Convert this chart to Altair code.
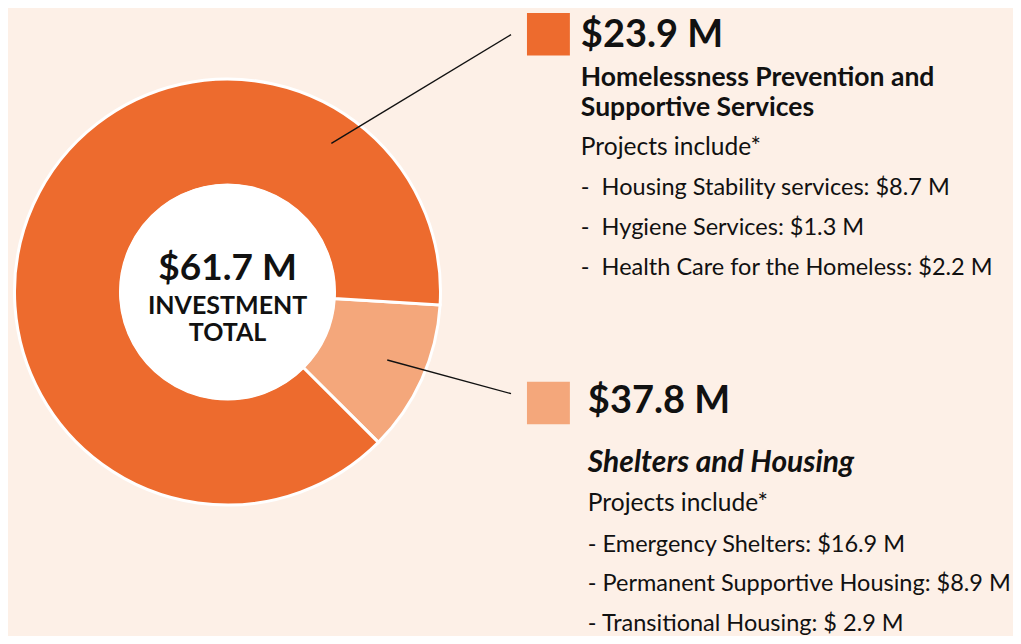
import math
import altair as alt
import pandas as pd

# ---------------- data ----------------
categories = ["Shelters and Housing", "Homelessness Prevention and Supportive Services"]
slice_share = [11.5, 88.5]          # share of the ring as drawn in the picture (%)
amounts = ["$37.8 M", "$23.9 M"]
total_label = "$61.7 M"
total_caption = ["INVESTMENT", "TOTAL"]
prevention_title = ["Homelessness Prevention and", "Supportive Services"]
shelter_title = ["Shelters and Housing"]
intro = "Projects include*"
prevention_items = ["Housing Stability services: $8.7 M",
                    "Hygiene Services: $1.3 M",
                    "Health Care for the Homeless: $2.2 M"]
shelter_items = ["Emergency Shelters: $16.9 M",
                 "Permanent Supportive Housing: $8.9 M",
                 "Transitional Housing: $ 2.9 M"]

# ---------------- style / layout ----------------
BG = "#FDF0E7"
DARK = "#ED6B2E"
LIGHT = "#F4A77B"
FONT = "Lato"
W, H = 1005, 628
CX, CY = 225.5, 292.0         # ring centre (page px)
R_OUT, R_IN = 213, 107
START = math.radians(93.5)    # where the first slice starts (clockwise from 12 o'clock)

XS = alt.Scale(domain=[8, 8 + W], nice=False, zero=False)
YS = alt.Scale(domain=[8 + H, 8], nice=False, zero=False)

def xq(f):
    return alt.X(f"{f}:Q", scale=XS, axis=None)

def yq(f):
    return alt.Y(f"{f}:Q", scale=YS, axis=None)

# ring
ring_df = pd.DataFrame({"category": categories, "share": slice_share,
                        "idx": list(range(len(categories)))})
ring = alt.Chart(ring_df).mark_arc(outerRadius=R_OUT, innerRadius=R_IN,
                                   stroke="white", strokeWidth=3).encode(
    theta=alt.Theta("share:Q", stack=True,
                    scale=alt.Scale(range=[START, START + 2 * math.pi])),
    color=alt.Color("category:N", scale=alt.Scale(domain=categories, range=[LIGHT, DARK]),
                    legend=None),
    order=alt.Order("idx:Q"),
    x=alt.value(CX - 8), y=alt.value(CY - 8),
)

hole = alt.Chart(pd.DataFrame({"k": [0]})).mark_arc(
    theta=0, theta2=2 * math.pi, outerRadius=R_IN + 1, innerRadius=0, fill="white"
).encode(x=alt.value(CX - 8), y=alt.value(CY - 8))

# leader lines
lines_df = pd.DataFrame({"category": categories,
                         "x": [386, 330], "y": [364, 145],
                         "x2": [510, 510], "y2": [398, 35]})
lines = alt.Chart(lines_df).mark_rule(color="#111111", strokeWidth=1.4).encode(
    x=xq("x"), y=yq("y"), x2="x2:Q", y2="y2:Q")

# legend squares
sq_df = pd.DataFrame({"category": categories,
                      "x": [526, 526], "x2": [569, 569],
                      "y": [386, 13], "y2": [429, 56]})
squares = alt.Chart(sq_df).mark_rect().encode(
    x=xq("x"), x2="x2:Q", y=yq("y"), y2="y2:Q",
    color=alt.Color("category:N", scale=alt.Scale(domain=categories, range=[LIGHT, DARK]),
                    legend=None))

def text_layer(texts, xs, ys, size, weight="normal", style="normal", align="left"):
    df = pd.DataFrame({"t": texts, "x": xs, "y": ys})
    return alt.Chart(df).mark_text(font=FONT, fontSize=size, fontWeight=weight,
                                   fontStyle=style, align=align, baseline="alphabetic",
                                   color="#111111").encode(
        x=xq("x"), y=yq("y"), text="t:N")

big = text_layer([amounts[1], amounts[0]], [580, 587], [47, 418], 38, "bold")
title1 = text_layer(prevention_title, [580, 580], [87, 117], 26.5, "bold")
title2 = text_layer(shelter_title, [587], [477], 30, "bold", "italic")
intro_t = text_layer([intro, intro], [580, 587], [157, 517], 24.5)
items1 = text_layer(["-\u00a0\u00a0" + s for s in prevention_items],
                    [580, 580, 580], [197, 238, 278], 23.5)
items2 = text_layer(["- " + s for s in shelter_items],
                    [587, 587, 587], [558, 598, 638], 23.5)
centre1 = text_layer([total_label], [226], [283], 37, "bold", align="center")
centre2 = text_layer(total_caption, [226, 226], [317, 345], 25, "bold", align="center")

chart = alt.layer(ring, hole, lines, squares, big, title1, title2, intro_t,
                  items1, items2, centre1, centre2).properties(
    width=W, height=H, background=BG, padding=0,
    autosize=alt.AutoSizeParams(type="fit", contains="padding"),
).configure_view(stroke=None)

chart.save("out.html", embed_options={"renderer": "svg", "actions": False})
